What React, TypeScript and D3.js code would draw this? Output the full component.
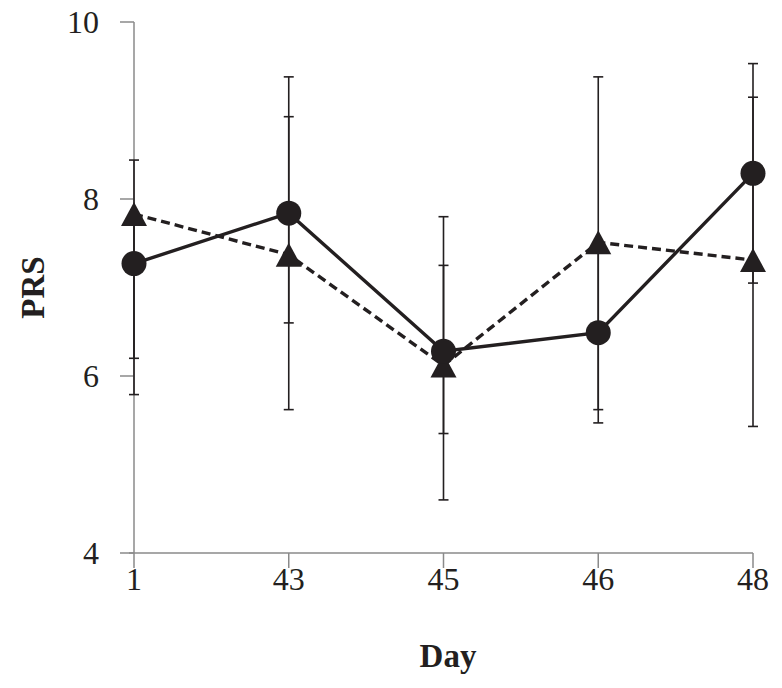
import React from 'react';
import * as d3 from 'd3';

// values
const days = ['1', '43', '45', '46', '48'];
const yTicks = [4, 6, 8, 10];

const circleMean = [7.27, 7.84, 6.28, 6.49, 8.29];
const circleHi = [8.44, 8.93, 7.25, 7.5, 9.53];
const circleLo = [6.2, 6.6, 5.35, 5.47, 7.05];

const triMean = [7.83, 7.37, 6.12, 7.51, 7.31];
const triHi = [7.83, 9.38, 7.8, 9.38, 9.15];
const triLo = [5.79, 5.62, 4.6, 5.62, 5.43];

const W = 782, H = 688;
const ink = '#231f20';
const axisGrey = '#8a8a8a';
const serif = '"Liberation Serif", "DejaVu Serif", serif';

const App = () => {
    const x = d3.scalePoint<string>().domain(days).range([134, 753]);
    const y = d3.scaleLinear().domain([4, 10]).range([553, 22]);
    const line = d3.line<number>()
        .x((d, i) => x(days[i]) as number)
        .y(d => y(d));

    const errBars = (hi: number[], lo: number[], mean: number[], key: string) =>
        days.map((day, i) => {
            const cx = x(day) as number;
            const top = y(hi[i]), bot = y(lo[i]);
            return (
                <g key={key + day} stroke={ink} strokeWidth={1.6}>
                    <line x1={cx} x2={cx} y1={top} y2={bot} />
                    {hi[i] !== mean[i] && <line x1={cx - 5} x2={cx + 5} y1={top} y2={top} />}
                    <line x1={cx - 5} x2={cx + 5} y1={bot} y2={bot} />
                </g>
            );
        });

    const tri = (cx: number, cy: number) => {
        const w = 13, h = 12;
        return `M${cx},${cy - h}L${cx + w},${cy + h}L${cx - w},${cy + h}Z`;
    };

    return (
        <svg width={W} height={H} style={{ position: 'absolute', left: 0, top: 0 }}
             fontFamily={serif}>
            <rect width={W} height={H} fill="white" />
            {/* y axis */}
            <line x1={134} x2={134} y1={y(10)} y2={y(4)} stroke={axisGrey} strokeWidth={1.5} />
            {yTicks.map(t => (
                <g key={t}>
                    <line x1={120} x2={134} y1={y(t)} y2={y(t)} stroke={axisGrey} strokeWidth={1.5} />
                    <text x={99} y={y(t)} dy="0.35em" textAnchor="end" fontSize={32} fill={ink}>{t}</text>
                </g>
            ))}
            <text transform={`translate(32,${(y(4) + y(10)) / 2}) rotate(-90)`} textAnchor="middle"
                  dy="0.35em" fontSize={33} fontWeight="bold" fill={ink}>PRS</text>
            {/* x axis */}
            <line x1={129} x2={753} y1={y(4)} y2={y(4)} stroke={axisGrey} strokeWidth={1.5} />
            {days.map(d => (
                <g key={d}>
                    <line x1={x(d)} x2={x(d)} y1={y(4)} y2={y(4) + 15} stroke={axisGrey} strokeWidth={1.5} />
                    <text x={x(d)} y={590} textAnchor="middle" fontSize={32} fill={ink}>{d}</text>
                </g>
            ))}
            <text x={448} y={667} textAnchor="middle" fontSize={33} fontWeight="bold" fill={ink}>Day</text>

            {errBars(triHi, triLo, triMean, 't')}
            {errBars(circleHi, circleLo, circleMean, 'c')}

            <path d={line(triMean) || ''} fill="none" stroke={ink} strokeWidth={3.4} strokeDasharray="9,5" />
            <path d={line(circleMean) || ''} fill="none" stroke={ink} strokeWidth={3.4} />

            {triMean.map((v, i) => (
                <path key={'tm' + i} d={tri(x(days[i]) as number, y(v))} fill={ink} />
            ))}
            {circleMean.map((v, i) => (
                <circle key={'cm' + i} cx={x(days[i])} cy={y(v)} r={12.5} fill={ink} />
            ))}
        </svg>
    );
};

export default App;
